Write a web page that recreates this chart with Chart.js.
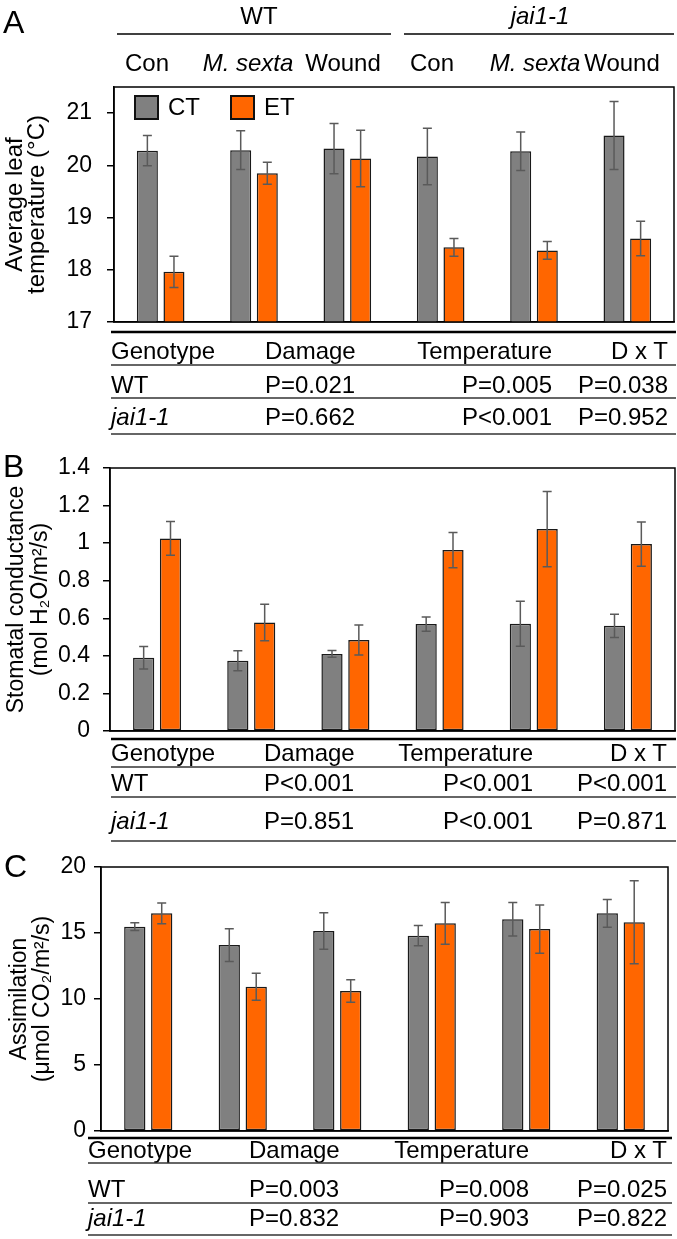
<!DOCTYPE html>
<html>
<head>
<meta charset="utf-8">
<script src="https://cdn.jsdelivr.net/npm/chart.js@4.4.0/dist/chart.umd.min.js"></script>
<style>
  body { margin: 0; background: #fff; }
  #page { position: relative; width: 677px; height: 1239px; overflow: hidden; background: #fff; }
  canvas { position: absolute; left: 0; }
  #overlay { position: absolute; left: 0; top: 0; font-family: "Liberation Sans", Arial, sans-serif; }
</style>
</head>
<body>
<div id="page">
  <canvas id="chartA" width="677" height="315" style="top:47px"></canvas>
  <canvas id="chartB" width="677" height="343" style="top:428px"></canvas>
  <canvas id="chartC" width="677" height="344" style="top:827px"></canvas>
  <svg id="overlay" width="677" height="1239"></svg>
</div>
<script>
// data
const categories = ['WT Con', 'WT M. sexta', 'WT Wound', 'jai1-1 Con', 'jai1-1 M. sexta', 'jai1-1 Wound'];
const genotypes = ['WT', 'jai1-1'];
const damages = ['Con', 'M. sexta', 'Wound', 'Con', 'M. sexta', 'Wound'];
const seriesNames = ['CT', 'ET'];

// A - leaf temperature
const tempCT = [20.28, 20.29, 20.32, 20.17, 20.27, 20.57];
const tempCTerr = [0.29, 0.37, 0.48, 0.54, 0.37, 0.65];
const tempET = [17.96, 19.85, 20.13, 18.43, 18.37, 18.60];
const tempETerr = [0.30, 0.21, 0.54, 0.17, 0.17, 0.33];
const tempTicks = [17, 18, 19, 20, 21];

// B - stomatal conductance
const condCT = [0.39, 0.374, 0.41, 0.569, 0.571, 0.56];
const condCTerr = [0.06, 0.053, 0.018, 0.038, 0.12, 0.062];
const condET = [1.025, 0.578, 0.484, 0.963, 1.075, 0.995];
const condETerr = [0.09, 0.097, 0.08, 0.094, 0.2, 0.118];
const condTicks = [0, 0.2, 0.4, 0.6, 0.8, 1, 1.2, 1.4];
const condTickLabels = ['0', '0.2', '0.4', '0.6', '0.8', '1', '1.2', '1.4'];

// C - assimilation
const assimCT = [15.48, 14.09, 15.15, 14.80, 16.04, 16.49];
const assimCTerr = [0.30, 1.24, 1.39, 0.77, 1.27, 1.05];
const assimET = [16.49, 10.93, 10.60, 15.73, 15.30, 15.81];
const assimETerr = [0.78, 1.03, 0.85, 1.58, 1.83, 3.14];
const assimTicks = [0, 5, 10, 15, 20];

// stats tables
const statHeaders = ['Genotype', 'Damage', 'Temperature', 'D x T'];
const tempStatsWT = ['P=0.021', 'P=0.005', 'P=0.038'];
const tempStatsJai = ['P=0.662', 'P<0.001', 'P=0.952'];
const condStatsWT = ['P<0.001', 'P<0.001', 'P<0.001'];
const condStatsJai = ['P=0.851', 'P<0.001', 'P=0.871'];
const assimStatsWT = ['P=0.003', 'P=0.008', 'P=0.025'];
const assimStatsJai = ['P=0.832', 'P=0.903', 'P=0.822'];

const FONT = "'Liberation Sans', Arial, sans-serif";
const GREY = '#808080';
const ORANGE = '#ff6600';

// error bars + frame
const errorBars = {
  id: 'errorBars',
  afterDatasetsDraw(chart) {
    const ctx = chart.ctx;
    const y = chart.scales.y;
    ctx.save();
    ctx.strokeStyle = '#5a5a5a';
    ctx.lineWidth = 1.5;
    chart.data.datasets.forEach((ds, i) => {
      chart.getDatasetMeta(i).data.forEach((bar, j) => {
        const top = y.getPixelForValue(ds.data[j] + ds.errors[j]);
        const bot = y.getPixelForValue(ds.data[j] - ds.errors[j]);
        ctx.beginPath();
        ctx.moveTo(bar.x, top); ctx.lineTo(bar.x, bot);
        ctx.moveTo(bar.x - 4.5, top); ctx.lineTo(bar.x + 4.5, top);
        ctx.moveTo(bar.x - 4.5, bot); ctx.lineTo(bar.x + 4.5, bot);
        ctx.stroke();
      });
    });
    // box round the plot
    const a = chart.chartArea;
    ctx.strokeStyle = '#000';
    ctx.lineWidth = 1.5;
    ctx.strokeRect(a.left, a.top, a.right - a.left, a.bottom - a.top);
    ctx.restore();
  }
};

// legend inside panel A
const boxLegend = {
  id: 'boxLegend',
  afterDraw(chart) {
    const ctx = chart.ctx;
    const a = chart.chartArea;
    ctx.save();
    ctx.font = '24px ' + FONT;
    ctx.textBaseline = 'middle';
    chart.data.datasets.forEach((ds, i) => {
      const x = a.left + 21 + i * 96;
      const y = a.top + 9;
      ctx.fillStyle = ds.backgroundColor;
      ctx.fillRect(x, y, 23, 23);
      ctx.strokeStyle = '#111';
      ctx.lineWidth = 2;
      ctx.strokeRect(x, y, 23, 23);
      ctx.fillStyle = '#000';
      ctx.fillText(ds.label, x + 33, y + 12.5);
    });
    ctx.restore();
  }
};

function makePanel(id, p) {
  const extra = [errorBars];
  if (p.legend) extra.push(boxLegend);
  return new Chart(document.getElementById(id), {
    type: 'bar',
    data: {
      labels: categories,
      datasets: [
        { label: seriesNames[0], data: p.ct, errors: p.ctErr, backgroundColor: GREY },
        { label: seriesNames[1], data: p.et, errors: p.etErr, backgroundColor: ORANGE }
      ]
    },
    options: {
      responsive: false,
      animation: false,
      datasets: {
        bar: {
          categoryPercentage: 0.57,
          barPercentage: 0.79,
          borderColor: '#1a1a1a',
          borderWidth: 1.5,
          borderSkipped: false
        }
      },
      layout: { padding: { top: 40, bottom: 40, left: 0, right: p.padRight } },
      plugins: { legend: { display: false }, tooltip: { enabled: false } },
      scales: {
        x: {
          grid: { display: false },
          ticks: { display: false },
          border: { display: true, color: '#000', width: 1.5 },
          afterFit: s => { s.height = 0; }
        },
        y: {
          min: p.min,
          max: p.max,
          afterBuildTicks: s => { s.ticks = p.ticks.map(v => ({ value: v })); },
          afterFit: s => { s.width = p.left; },
          grid: { display: true, drawOnChartArea: false, drawTicks: true, tickLength: 7, color: '#000', lineWidth: 1.5 },
          border: { display: true, color: '#000', width: 1.5 },
          ticks: {
            color: '#000',
            padding: p.tickPad,
            font: { family: FONT, size: 23 },
            callback: p.tickFmt
          },
          title: {
            display: true,
            text: p.title,
            color: '#000',
            font: { family: FONT, size: p.titleSize, lineHeight: p.titleLine + 'px' },
            padding: { top: p.titlePad, bottom: 0 }
          }
        }
      }
    },
    plugins: extra
  });
}

makePanel('chartA', {
  ct: tempCT, ctErr: tempCTerr, et: tempET, etErr: tempETerr,
  min: 17, max: 21.5, ticks: tempTicks, tickFmt: v => String(v),
  left: 114, padRight: 3, tickPad: 15,
  title: ['Average leaf', 'temperature (°C)'], titleSize: 24, titleLine: 22.5, titlePad: 3.75,
  legend: true
});

makePanel('chartB', {
  ct: condCT, ctErr: condCTerr, et: condET, etErr: condETerr,
  min: 0, max: 1.4, ticks: condTicks, tickFmt: (v, i) => condTickLabels[i],
  left: 110, padRight: 2, tickPad: 13,
  title: ['Stomatal conductance', '(mol H\u2082O/m\u00b2/s)'], titleSize: 23, titleLine: 24, titlePad: 5
});

makePanel('chartC', {
  ct: assimCT, ctErr: assimCTerr, et: assimET, etErr: assimETerr,
  min: 0, max: 20, ticks: assimTicks, tickFmt: v => String(v),
  left: 101, padRight: 9, tickPad: 8,
  title: ['Assimilation', '(\u03bcmol CO\u2082/m\u00b2/s)'], titleSize: 23, titleLine: 23, titlePad: 8.5
});

// text and tables
const svgNS = 'http://www.w3.org/2000/svg';
const overlay = document.getElementById('overlay');

function addText(str, x, y, o = {}) {
  const t = document.createElementNS(svgNS, 'text');
  t.setAttribute('x', x);
  t.setAttribute('y', y);
  t.setAttribute('font-size', o.size || 24);
  t.setAttribute('text-anchor', o.anchor || 'start');
  t.setAttribute('fill', '#000');
  if (o.italic) t.setAttribute('font-style', 'italic');
  t.textContent = str;
  overlay.appendChild(t);
}

function addLine(x1, y1, x2, y2, w, color) {
  const l = document.createElementNS(svgNS, 'line');
  l.setAttribute('x1', x1); l.setAttribute('y1', y1);
  l.setAttribute('x2', x2); l.setAttribute('y2', y2);
  l.setAttribute('stroke', color);
  l.setAttribute('stroke-width', w);
  overlay.appendChild(l);
}

// panel letters
addText('A', 3, 33, { size: 32 });
addText('B', 3, 477, { size: 32 });
addText('C', 4, 877, { size: 32 });

// genotype / damage headers over panel A
addText(genotypes[0], 259, 24, { anchor: 'middle' });
addText(genotypes[1], 540, 24, { anchor: 'middle', italic: true });
addLine(117, 34, 391, 34, 1.5, '#000');
addLine(404, 34, 674, 34, 1.5, '#000');
const damageX = [147, 248, 343, 432, 535, 622];
damages.forEach((d, i) => addText(d, damageX[i], 71, { anchor: 'middle', italic: d === 'M. sexta' }));

function drawTable(t, wt, jai) {
  addLine(t.x0, t.thick, t.x1, t.thick, 2.5, '#000');
  addText(statHeaders[0], t.cols[0], t.base[0]);
  addText(statHeaders[1], t.cols[1], t.base[0]);
  addText(statHeaders[2], t.cols[2], t.base[0], { anchor: 'end' });
  addText(statHeaders[3], t.cols[3], t.base[0], { anchor: 'end' });
  [wt, jai].forEach((vals, r) => {
    addText(genotypes[r], t.cols[0], t.base[r + 1], { italic: r === 1 });
    addText(vals[0], t.cols[1], t.base[r + 1]);
    addText(vals[1], t.cols[2], t.base[r + 1], { anchor: 'end' });
    addText(vals[2], t.cols[3], t.base[r + 1], { anchor: 'end' });
  });
  t.lines.forEach(y => addLine(t.x0, y, t.x1, y, 1.3, '#333'));
}

drawTable({ x0: 111, x1: 676, thick: 332, base: [359, 393, 425], lines: [365, 398, 434], cols: [111, 265, 552, 668] },
  tempStatsWT, tempStatsJai);
drawTable({ x0: 111, x1: 676, thick: 739, base: [761, 791, 829], lines: [767, 797, 841], cols: [111, 264, 533, 667] },
  condStatsWT, condStatsJai);
drawTable({ x0: 88, x1: 672, thick: 1138, base: [1158, 1197, 1226], lines: [1163, 1203, 1235], cols: [88, 249, 529, 667] },
  assimStatsWT, assimStatsJai);
</script>
</body>
</html>
